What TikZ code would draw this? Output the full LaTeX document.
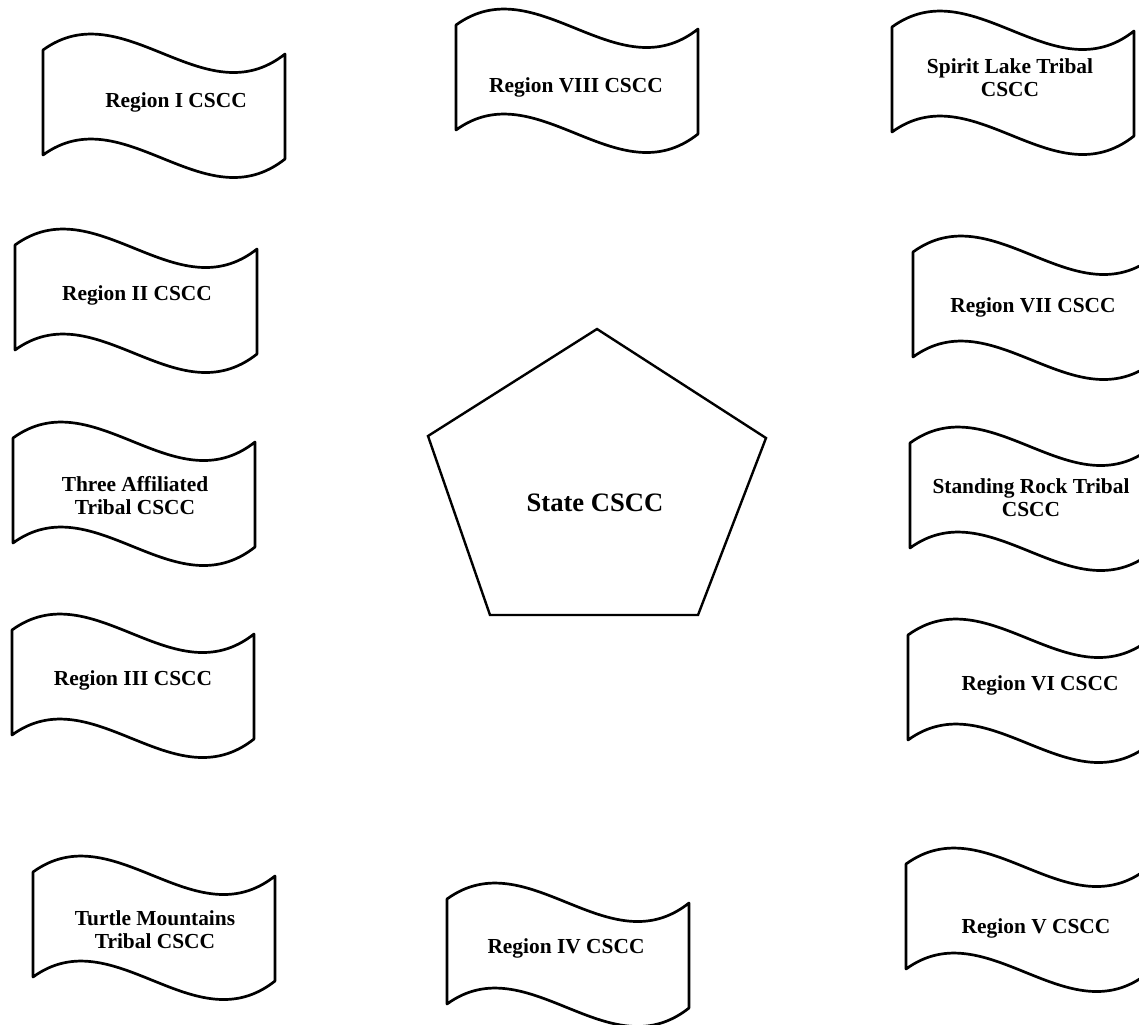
\documentclass[tikz,border=0pt]{standalone}
\usepackage{fontspec}
\setmainfont{Liberation Serif}
\usepackage{tikz}
\usetikzlibrary{calc}

\tikzset{
  flagline/.style={line width=1.35pt, line join=round},
  flagtext/.style={font=\fontsize{10.7}{11.5}\selectfont\bfseries, align=center, inner sep=0pt},
  statetext/.style={font=\fontsize{13.3}{15}\selectfont\bfseries, inner sep=0pt},
}

% wavy banner, given its top left corner
\newcommand{\csccflag}[2]{%
  \begin{scope}[shift={(#1,#2)}]
    \draw[flagline] (0,0) .. controls (80.7,-58.6) and (161.3,67.8) .. (242,4)
      -- (242,109) .. controls (161.3,172.8) and (80.7,46.4) .. (0,105) -- cycle;
  \end{scope}}

\begin{document}
\begin{tikzpicture}[x=0.5pt,y=-0.5pt]
\useasboundingbox (0,0) rectangle (1139,1024);
\clip (0,0) rectangle (1139,1024);
% Banners, left column
\csccflag{43}{50}
\node[flagtext] (regI) at (176,102) {Region I CSCC};
\csccflag{15}{245}
\node[flagtext] (regII) at (137,295) {Region II CSCC};
\csccflag{13}{438}
\node[flagtext] (threeaff) at (135,496) {Three Affiliated\\Tribal CSCC};
\csccflag{12}{630}
\node[flagtext] (regIII) at (133,680) {Region III CSCC};
\csccflag{33}{872}
\node[flagtext] (turtle) at (155,930) {Turtle Mountains\\Tribal CSCC};
% Banners, middle
\csccflag{456}{25}
\node[flagtext] (regVIII) at (576,87) {Region VIII CSCC};
\csccflag{447}{899}
\node[flagtext] (regIV) at (566,948) {Region IV CSCC};
% Banners, right column
\csccflag{892}{27}
\node[flagtext] (spirit) at (1010,78) {Spirit Lake Tribal\\CSCC};
\csccflag{913}{252}
\node[flagtext] (regVII) at (1033,307) {Region VII CSCC};
\csccflag{910}{443}
\node[flagtext] (standing) at (1031,498) {Standing Rock Tribal\\CSCC};
\csccflag{908}{635}
\node[flagtext] (regVI) at (1040,685) {Region VI CSCC};
\csccflag{906}{864}
\node[flagtext] (regV) at (1036,928) {Region V CSCC};
% State pentagon
\draw[line width=1.2pt, line join=miter] (597,329) -- (766,438) -- (698,615)
  -- (490,615) -- (428,436) -- cycle;
\node[statetext] (state) at (595,503) {State CSCC};
\end{tikzpicture}
\end{document}
